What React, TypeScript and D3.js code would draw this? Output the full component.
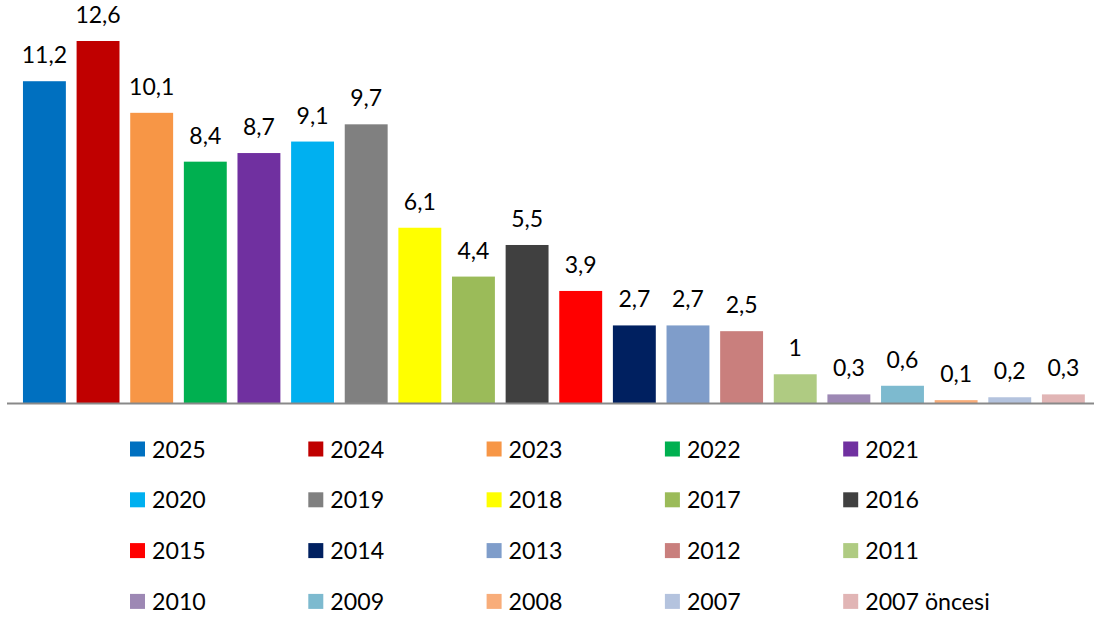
import React from "react";
import * as d3 from "d3";

const categories = ["2025","2024","2023","2022","2021","2020","2019","2018","2017","2016","2015","2014","2013","2012","2011","2010","2009","2008","2007","2007 öncesi"];
const values = [11.2,12.6,10.1,8.4,8.7,9.1,9.7,6.1,4.4,5.5,3.9,2.7,2.7,2.5,1,0.3,0.6,0.1,0.2,0.3];
const colors = ["#0070C0","#C00000","#F79646","#00B050","#7030A0","#00B0F0","#808080","#FFFF00","#9BBB59","#404040","#FF0000","#002060","#7F9DCA","#C97F7D","#AFCB82","#9D88B4","#7DBACF","#F8AD7A","#B4C3DE","#E1B5B5"];

const W = 1094, H = 619;
const baseY = 403;
const FONT = "Lato, 'Open Sans', sans-serif";

export default function App() {
  const x = d3.scaleBand<string>().domain(categories).range([17.6, 1090.2]).paddingInner(0.2).paddingOuter(0.1);
  const y = d3.scaleLinear().domain([0, 12.6]).range([baseY, 41]);
  const fmt = (v: number) => String(v).replace(".", ",");
  const colStep = 178.3, rowStep = 50.8;
  return (
    <svg width={W} height={H} style={{ position: "absolute", left: 0, top: 0, background: "#fff" }} fontFamily={FONT}>
      {categories.map((c, i) => (
        <g key={c}>
          <rect x={x(c)} y={y(values[i])} width={x.bandwidth()} height={baseY - y(values[i])} fill={colors[i]} />
          <text x={(x(c) as number) + x.bandwidth() / 2} y={y(values[i]) - 18} textAnchor="middle" fontSize={23} fill="#000">{fmt(values[i])}</text>
        </g>
      ))}
      <line x1={7} x2={1094} y1={baseY + 0.5} y2={baseY + 0.5} stroke="#898989" strokeWidth={2} />
      {categories.map((c, i) => {
        const col = i % 5, row = Math.floor(i / 5);
        const lx = 130 + col * colStep, ly = 449 + row * rowStep;
        return (
          <g key={"l" + c}>
            <rect x={lx} y={ly - 7.5} width={15} height={15} fill={colors[i]} />
            <text x={lx + 22} y={ly + 8.5} fontSize={23.2} fill="#000">{c}</text>
          </g>
        );
      })}
    </svg>
  );
}
